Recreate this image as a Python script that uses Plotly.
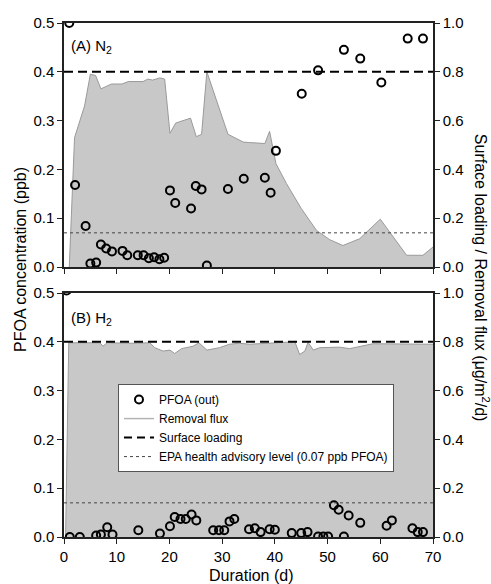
import plotly.graph_objects as go

# ---------------- data ----------------
# Panel A (N2)
a_flux_day = [1.0, 2.0, 3.9, 5.0, 6.0, 7.0, 9.0, 11.0, 12.2, 15.0, 15.9, 16.8, 18.2, 19.1,
              20.1, 21.2, 24.0, 25.1, 26.1, 27.1, 31.1, 34.0, 35.2, 37.1, 38.1, 39.0, 40.2,
              42.2, 45.0, 47.9, 50.4, 52.9, 56.1, 60.0, 65.0, 68.1, 70.0]
a_flux = [0.0, 0.53, 0.66, 0.79, 0.785, 0.73, 0.75, 0.75, 0.76, 0.76, 0.77, 0.766, 0.775, 0.77,
          0.548, 0.59, 0.61, 0.534, 0.544, 0.80, 0.544, 0.512, 0.51, 0.508, 0.506, 0.556, 0.424,
          0.342, 0.24, 0.15, 0.112, 0.088, 0.116, 0.196, 0.048, 0.048, 0.082]
a_pfoa_day = [1.0, 2.1, 4.1, 5.0, 6.1, 7.0, 8.0, 9.1, 11.1, 12.0, 14.0, 15.1, 16.1, 17.1, 18.1,
              19.0, 20.1, 21.1, 24.1, 25.0, 26.1, 27.1, 31.1, 34.1, 38.1, 39.2, 40.2, 45.1,
              48.2, 53.1, 56.2, 60.2, 65.2, 68.1]
a_pfoa = [0.50, 0.168, 0.084, 0.007, 0.009, 0.046, 0.038, 0.032, 0.033, 0.024, 0.024, 0.024,
          0.018, 0.020, 0.016, 0.019, 0.157, 0.131, 0.120, 0.166, 0.159, 0.003, 0.160, 0.181,
          0.183, 0.152, 0.238, 0.355, 0.403, 0.445, 0.427, 0.378, 0.468, 0.468]

# Panel B (H2)
b_flux_day = [0.3, 0.9, 6.8, 7.4, 8.2, 13.1, 16.3, 17.2, 18.8, 20.1, 21.0, 22.3, 24.5, 25.6,
              27.1, 29.5, 31.4, 33.3, 35.2, 41.6, 43.8, 44.7, 45.7, 46.3, 47.3, 48.5, 52.3,
              54.2, 58.6, 70.0]
b_flux = [0.0, 0.796, 0.796, 0.782, 0.796, 0.794, 0.796, 0.776, 0.762, 0.766, 0.752, 0.772,
          0.782, 0.796, 0.766, 0.776, 0.79, 0.794, 0.79, 0.796, 0.80, 0.748, 0.762, 0.798,
          0.766, 0.776, 0.778, 0.772, 0.792, 0.79]
b_pfoa_day = [0.5, 1.1, 3.0, 6.1, 7.0, 8.2, 9.2, 14.1, 18.2, 20.1, 21.0, 22.1, 23.1, 24.2, 25.1,
              28.3, 29.4, 30.4, 31.4, 32.3, 35.1, 36.2, 37.3, 39.0, 40.0, 43.2, 45.0, 46.2,
              48.2, 49.2, 50.1, 51.2, 52.1, 53.1, 54.0, 56.2, 61.2, 62.2, 66.1, 67.1, 68.1]
b_pfoa = [0.505, 0.0, 0.0, 0.003, 0.005, 0.020, 0.005, 0.014, 0.007, 0.022, 0.041, 0.037, 0.037,
          0.046, 0.034, 0.014, 0.014, 0.014, 0.032, 0.037, 0.016, 0.018, 0.010, 0.016, 0.015,
          0.008, 0.008, 0.010, 0.001, 0.001, 0.001, 0.065, 0.056, 0.001, 0.044, 0.029, 0.023,
          0.034, 0.018, 0.010, 0.010]

day_range = [0, 70]
surface_loading = 0.8      # ug/m2/d (right axis)
epa_level = 0.07           # ppb (left axis)

left_ticks = [0.0, 0.1, 0.2, 0.3, 0.4, 0.5]
right_ticks = [0.0, 0.2, 0.4, 0.6, 0.8, 1.0]
x_ticks = [0, 10, 20, 30, 40, 50, 60, 70]

# ---------------- style ----------------
FONT = "Liberation Sans, Arial, sans-serif"
AXC = "#222222"
FILLC = "#c8c8c8"
EDGEC = "#9a9a9a"

fig = go.Figure()

def add_panel(xa, yr, yl, fday, fval, pday, pval, legend):
    fig.add_trace(go.Scatter(x=fday, y=fval, xaxis=xa, yaxis=yr, mode="lines",
                             line=dict(color=EDGEC, width=1), fill="tozeroy",
                             fillcolor=FILLC, showlegend=False, hoverinfo="skip"))
    fig.add_trace(go.Scatter(x=day_range, y=[surface_loading] * 2, xaxis=xa, yaxis=yr,
                             mode="lines", line=dict(color="black", width=2, dash="9px,5px"),
                             showlegend=False))
    fig.add_trace(go.Scatter(x=pday, y=pval, xaxis=xa, yaxis=yl, mode="markers",
                             marker=dict(symbol="circle-open", size=8, color="black",
                                         line=dict(width=2, color="black")),
                             name="PFOA (out)", showlegend=legend))
    if legend:
        fig.add_trace(go.Scatter(x=[None], y=[None], xaxis=xa, yaxis=yl, mode="lines",
                                 line=dict(color="#b4b4b4", width=1.5), name="Removal flux"))
        fig.add_trace(go.Scatter(x=[None], y=[None], xaxis=xa, yaxis=yl, mode="lines",
                                 line=dict(color="black", width=2, dash="8px,5px"),
                                 name="Surface loading"))
    fig.add_trace(go.Scatter(x=day_range, y=[epa_level] * 2, xaxis=xa, yaxis=yl, mode="lines",
                             line=dict(color="#444444", width=1, dash="dot"),
                             name="EPA health advisory level (0.07 ppb PFOA)",
                             showlegend=legend))

add_panel("x", "y", "y2", a_flux_day, a_flux, a_pfoa_day, a_pfoa, False)
add_panel("x2", "y3", "y4", b_flux_day, b_flux, b_pfoa_day, b_pfoa, True)

tickfont = dict(family=FONT, size=15, color="black")
common_x = dict(range=day_range, tickvals=x_ticks, ticks="outside", ticklen=5, tickwidth=1.3,
                tickcolor=AXC, showline=True, linecolor=AXC, linewidth=1.5, mirror=True,
                showgrid=False, zeroline=False, tickfont=tickfont)
common_yl = dict(range=[0, 0.5], tickvals=left_ticks, tickformat=".1f", side="left",
                 ticks="outside", ticklen=5, tickwidth=1.3, tickcolor=AXC, showline=True,
                 linecolor=AXC, linewidth=1.5, showgrid=False, zeroline=False, tickfont=tickfont)
common_yr = dict(range=[0, 1.0], tickvals=right_ticks, tickformat=".1f", side="right",
                 ticks="outside", ticklen=5, tickwidth=1.3, tickcolor=AXC, showline=True,
                 linecolor=AXC, linewidth=1.5, showgrid=False, zeroline=False, tickfont=tickfont)

top_dom = [0.5253, 1.0]
bot_dom = [0.0, 0.4747]

fig.update_layout(
    width=491, height=584,
    margin=dict(l=64, r=58, t=23, b=47),
    paper_bgcolor="white", plot_bgcolor="rgba(0,0,0,0)",
    font=dict(family=FONT, color="black"),
    xaxis=dict(common_x, anchor="y", showticklabels=False),
    yaxis=dict(common_yr, domain=top_dom, anchor="x"),
    yaxis2=dict(common_yl, overlaying="y", anchor="x"),
    xaxis2=dict(common_x, anchor="y3"),
    yaxis3=dict(common_yr, domain=bot_dom, anchor="x2"),
    yaxis4=dict(common_yl, overlaying="y3", anchor="x2"),
    legend=dict(x=0.1463, y=0.2975, xanchor="left", yanchor="top", bgcolor="white",
                bordercolor="#555555", borderwidth=1, font=dict(family=FONT, size=12),
                tracegroupgap=0),
    showlegend=True,
)

fig.add_annotation(text="(A) N<sub>2</sub>", xref="paper", yref="paper", x=0.013, y=0.955,
                   xanchor="left", yanchor="middle", showarrow=False,
                   font=dict(family=FONT, size=15))
fig.add_annotation(text="(B) H<sub>2</sub>", xref="paper", yref="paper", x=0.013, y=0.425,
                   xanchor="left", yanchor="middle", showarrow=False,
                   font=dict(family=FONT, size=15))
fig.add_annotation(text="PFOA concentration (ppb)", xref="paper", yref="paper",
                   x=-0.1165, y=0.539, textangle=-90, showarrow=False,
                   xanchor="center", yanchor="middle", font=dict(family=FONT, size=16))
fig.add_annotation(text="Surface loading / Removal flux (μg/m<sup>2</sup>/d)", xref="paper",
                   yref="paper", x=1.133, y=0.504, textangle=90, showarrow=False,
                   xanchor="center", yanchor="middle", font=dict(family=FONT, size=16))
fig.add_annotation(text="Duration (d)", xref="paper", yref="paper", x=0.507, y=-0.074,
                   showarrow=False, xanchor="center", yanchor="middle",
                   font=dict(family=FONT, size=16))

fig.write_html("out.html")
